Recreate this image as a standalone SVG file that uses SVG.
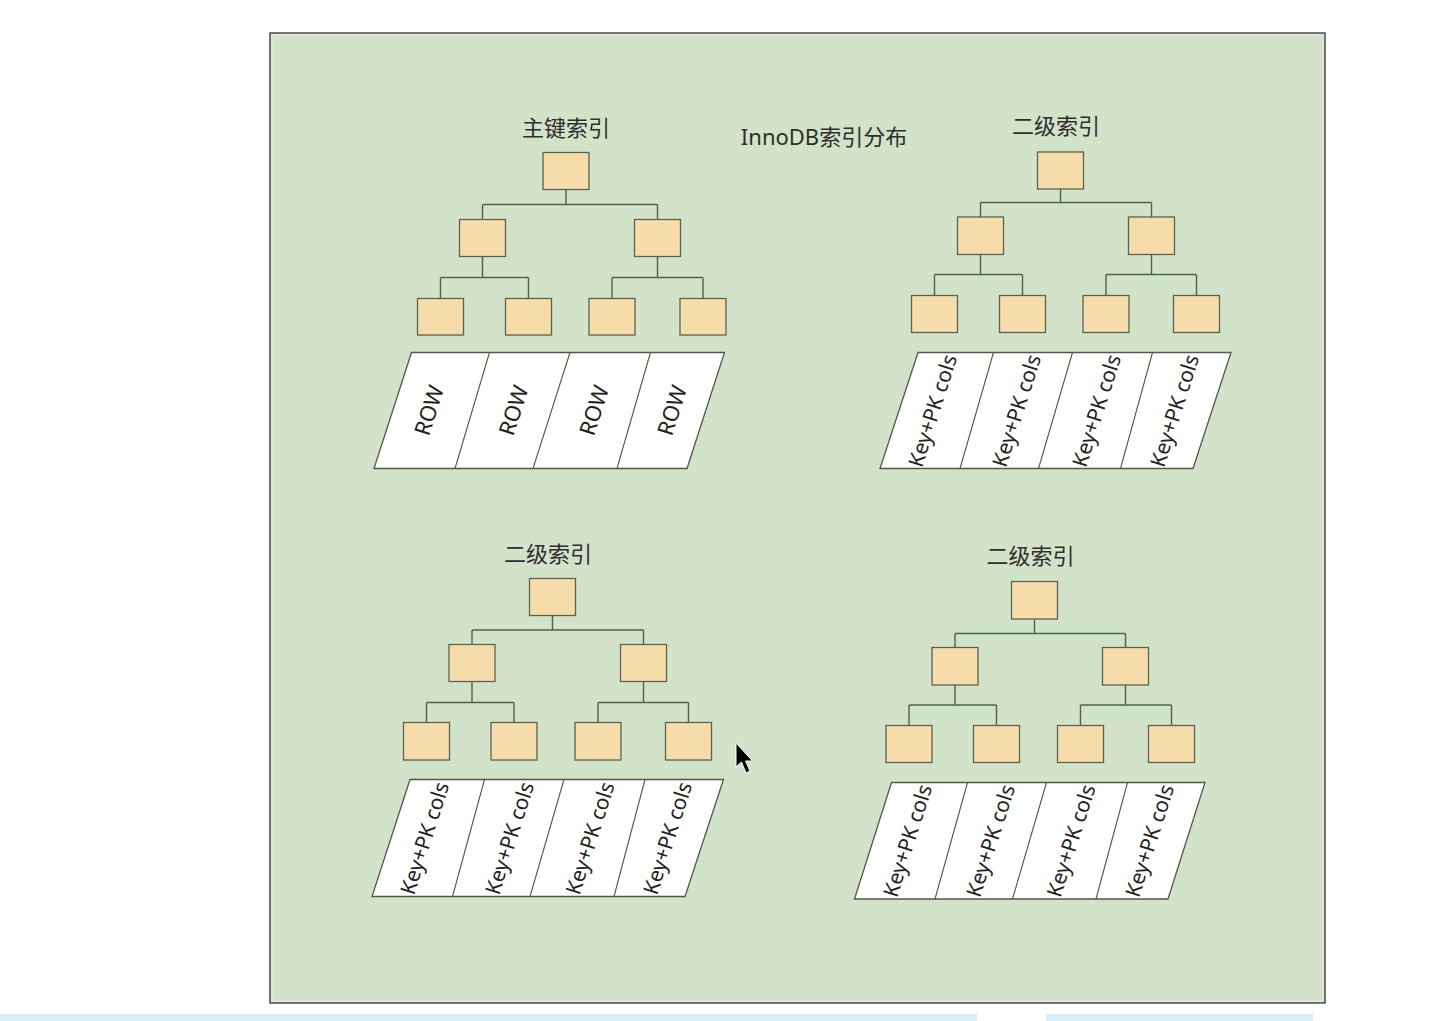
<svg xmlns="http://www.w3.org/2000/svg" width="1434" height="1021" viewBox="0 0 1434 1021">
<style>
.bg{fill:#d3e3ca;stroke:#4b4b4b;stroke-width:1.5}
.box{fill:#f6dcaa;stroke:#5b6350;stroke-width:1.3}
.par{fill:#ffffff;stroke:#4d5a46;stroke-width:1.3}
.div{fill:none;stroke:#4d5a46;stroke-width:1.1}
.con{fill:none;stroke:#4d6544;stroke-width:1.4}
.title{font-family:"Noto Sans","Noto Sans CJK SC",sans-serif;font-size:22px;fill:#2e2e2e;text-anchor:middle}
.lbl{font-family:"Noto Sans","Open Sans",sans-serif;font-size:21px;fill:#222;text-anchor:middle;dominant-baseline:central}
.row{font-size:22px}
</style>
<rect x="0" y="0" width="1434" height="1021" fill="#ffffff"/>
<rect class="bg" x="270" y="33" width="1055" height="970"/>
<rect x="272" y="35" width="1051" height="966" fill="none" stroke="#e6eee0" stroke-width="1"/>
<rect x="0" y="1014" width="977" height="7" fill="#d6eef9"/>
<rect x="1046" y="1014" width="267" height="7" fill="#d6eef9"/>
<text class="title" x="824" y="145">InnoDB索引分布</text>

<g id="connectors" class="con">
<path d="M566 189.5V204.5M482.5 204.5H657.5M482.5 204.5V219.5M657.5 204.5V219.5M482.5 256.5V277.5M440.5 277.5H528.5M440.5 277.5V298.5M528.5 277.5V298.5M657.5 256.5V277.5M612 277.5H703M612 277.5V298.5M703 277.5V298.5"/>
<path d="M1060.5 189V202.5M980.5 202.5H1151.5M980.5 202.5V217M1151.5 202.5V217M980.5 254.5V274.5M934.5 274.5H1022.5M934.5 274.5V295.5M1022.5 274.5V295.5M1151.5 254.5V274.5M1106 274.5H1196.5M1106 274.5V295.5M1196.5 274.5V295.5"/>
<path d="M552.5 615.5V630M472 630H643.5M472 630V644.5M643.5 630V644.5M472 681.5V702.5M426.5 702.5H514M426.5 702.5V722.5M514 702.5V722.5M643.5 681.5V702.5M598 702.5H688.5M598 702.5V722.5M688.5 702.5V722.5"/>
<path d="M1034.5 619V633.5M955 633.5H1125.5M955 633.5V647.5M1125.5 633.5V647.5M955 685V705M909 705H996.5M909 705V725.5M996.5 705V725.5M1125.5 685V705M1080.5 705H1171.5M1080.5 705V725.5M1171.5 705V725.5"/>
</g>

<g id="tree-primary">
<text class="title" x="566" y="136">主键索引</text>
<g id="p-root"><rect class="box" x="543" y="152.5" width="46" height="37"/></g>
<g id="p-mid1"><rect class="box" x="459.5" y="219.5" width="46" height="37"/></g>
<g id="p-mid2"><rect class="box" x="634.5" y="219.5" width="46" height="37"/></g>
<g id="p-leaf1"><rect class="box" x="417.5" y="298.5" width="46" height="36.5"/></g>
<g id="p-leaf2"><rect class="box" x="505.5" y="298.5" width="46" height="36.5"/></g>
<g id="p-leaf3"><rect class="box" x="589" y="298.5" width="46" height="36.5"/></g>
<g id="p-leaf4"><rect class="box" x="680" y="298.5" width="46" height="36.5"/></g>
<g id="p-rows">
<polygon class="par" points="411.5,352.5 724.5,352.5 687,468.5 374,468.5"/>
<path class="div" d="M489.5 352.5L455 468.5M570 352.5L533 468.5M650.5 352.5L617 468.5"/>
<text class="lbl row" transform="translate(428,410) rotate(-72.3)">ROW</text>
<text class="lbl row" transform="translate(512.5,410) rotate(-72.3)">ROW</text>
<text class="lbl row" transform="translate(593,410) rotate(-72.3)">ROW</text>
<text class="lbl row" transform="translate(671,410) rotate(-72.3)">ROW</text>
</g>
</g>

<g id="tree-secondary-1">
<text class="title" x="1056" y="134">二级索引</text>
<g id="s1-root"><rect class="box" x="1037.5" y="152" width="46" height="37"/></g>
<g id="s1-mid1"><rect class="box" x="957.5" y="217" width="46" height="37.5"/></g>
<g id="s1-mid2"><rect class="box" x="1128.5" y="217" width="46" height="37.5"/></g>
<g id="s1-leaf1"><rect class="box" x="911.5" y="295.5" width="46" height="37"/></g>
<g id="s1-leaf2"><rect class="box" x="999.5" y="295.5" width="46" height="37"/></g>
<g id="s1-leaf3"><rect class="box" x="1083" y="295.5" width="46" height="37"/></g>
<g id="s1-leaf4"><rect class="box" x="1173.5" y="295.5" width="46" height="37"/></g>
<g id="s1-cols">
<polygon class="par" points="918,352.5 1231,352.5 1193,468.5 880,468.5"/>
<path class="div" d="M993.5 352.5L960 468.5M1072.5 352.5L1038.5 468.5M1152.5 352.5L1120.5 468.5"/>
<text class="lbl" transform="translate(932,410.5) rotate(-72.3)">Key+PK cols</text>
<text class="lbl" transform="translate(1016,410.5) rotate(-72.3)">Key+PK cols</text>
<text class="lbl" transform="translate(1096,410.5) rotate(-72.3)">Key+PK cols</text>
<text class="lbl" transform="translate(1174,410.5) rotate(-72.3)">Key+PK cols</text>
</g>
</g>

<g id="tree-secondary-2">
<text class="title" x="548" y="562">二级索引</text>
<g id="s2-root"><rect class="box" x="529.5" y="578.5" width="46" height="37"/></g>
<g id="s2-mid1"><rect class="box" x="449" y="644.5" width="46" height="37"/></g>
<g id="s2-mid2"><rect class="box" x="620.5" y="644.5" width="46" height="37"/></g>
<g id="s2-leaf1"><rect class="box" x="403.5" y="722.5" width="46" height="37.5"/></g>
<g id="s2-leaf2"><rect class="box" x="491" y="722.5" width="46" height="37.5"/></g>
<g id="s2-leaf3"><rect class="box" x="575" y="722.5" width="46" height="37.5"/></g>
<g id="s2-leaf4"><rect class="box" x="665.5" y="722.5" width="46" height="37.5"/></g>
<g id="s2-cols">
<polygon class="par" points="410,779.5 723.5,779.5 685,896.5 372,896.5"/>
<path class="div" d="M484.5 779.5L452.5 896.5M564 779.5L530 896.5M645 779.5L614 896.5"/>
<text class="lbl" transform="translate(424,838) rotate(-72.3)">Key+PK cols</text>
<text class="lbl" transform="translate(509,838) rotate(-72.3)">Key+PK cols</text>
<text class="lbl" transform="translate(589.5,838) rotate(-72.3)">Key+PK cols</text>
<text class="lbl" transform="translate(667,838) rotate(-72.3)">Key+PK cols</text>
</g>
</g>

<g id="tree-secondary-3">
<text class="title" x="1030.5" y="564">二级索引</text>
<g id="s3-root"><rect class="box" x="1011.5" y="581.5" width="46" height="37.5"/></g>
<g id="s3-mid1"><rect class="box" x="932" y="647.5" width="46" height="37.5"/></g>
<g id="s3-mid2"><rect class="box" x="1102.5" y="647.5" width="46" height="37.5"/></g>
<g id="s3-leaf1"><rect class="box" x="886" y="725.5" width="46" height="37"/></g>
<g id="s3-leaf2"><rect class="box" x="973.5" y="725.5" width="46" height="37"/></g>
<g id="s3-leaf3"><rect class="box" x="1057.5" y="725.5" width="46" height="37"/></g>
<g id="s3-leaf4"><rect class="box" x="1148.5" y="725.5" width="46" height="37"/></g>
<g id="s3-cols">
<polygon class="par" points="891.5,782.5 1205,782.5 1168,899 854.5,899"/>
<path class="div" d="M967.5 782.5L935 899M1046.5 782.5L1012.5 899M1127.5 782.5L1096 899"/>
<text class="lbl" transform="translate(907,840.5) rotate(-72.3)">Key+PK cols</text>
<text class="lbl" transform="translate(990,840.5) rotate(-72.3)">Key+PK cols</text>
<text class="lbl" transform="translate(1070.5,840.5) rotate(-72.3)">Key+PK cols</text>
<text class="lbl" transform="translate(1149,840.5) rotate(-72.3)">Key+PK cols</text>
</g>
</g>

<polygon points="736,743 736,767 741.5,762 746,773 750,771 745.5,761 752.5,761" fill="#000" stroke="#fff" stroke-width="1"/>
</svg>
